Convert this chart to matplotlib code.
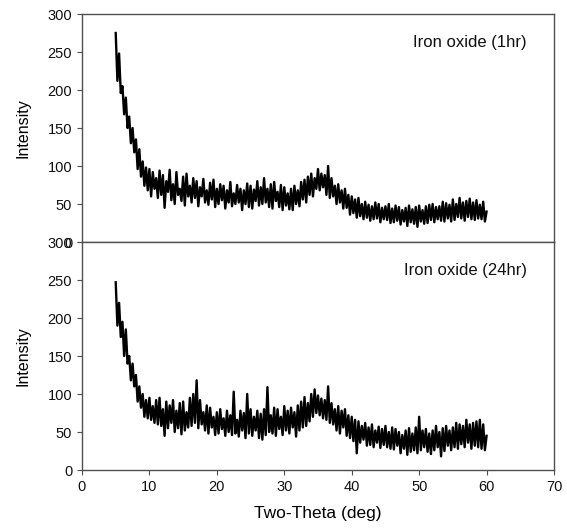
import matplotlib

matplotlib.use("Agg")
import matplotlib.pyplot as plt
import numpy as np

# two-theta sampling grid, 0.25 deg steps from 5 to 60
two_theta = np.arange(5.0, 60.001, 0.25)

# intensities (noisy XRD traces, zigzag high/low)
intensity_1hr = [
    275, 212, 248, 196, 205, 168, 190, 150, 165, 130, 150, 118,
    135, 96, 122, 86, 106, 74, 98, 68, 96, 60, 92, 70,
    84, 58, 94, 62, 88, 45, 80, 66, 95, 55, 76, 50,
    92, 62, 70, 54, 86, 48, 90, 60, 74, 52, 84, 58,
    80, 47, 72, 60, 83, 52, 68, 49, 78, 56, 82, 46,
    70, 50, 76, 55, 74, 44, 68, 52, 79, 47, 64, 50,
    75, 52, 70, 42, 68, 50, 77, 46, 74, 44, 69, 54,
    80, 48, 72, 50, 84, 52, 70, 46, 76, 44, 79, 54,
    66, 46, 75, 42, 72, 48, 64, 43, 70, 42, 74, 50,
    68, 47, 79, 56, 82, 52, 86, 62, 90, 60, 84, 70,
    96, 68, 90, 72, 88, 62, 100, 58, 84, 60, 74, 50,
    76, 52, 68, 44, 70, 45, 62, 36, 60, 38, 56, 32,
    58, 34, 50, 30, 53, 32, 49, 28, 47, 30, 52, 31,
    50, 26, 45, 30, 47, 29, 50, 25, 44, 26, 48, 28,
    46, 23, 42, 27, 45, 21, 48, 26, 43, 24, 46, 20,
    48, 27, 42, 24, 47, 25, 49, 29, 50, 26, 46, 30,
    47, 28, 53, 27, 51, 31, 49, 27, 56, 29, 50, 33,
    58, 31, 52, 28, 54, 33, 57, 30, 52, 29, 55, 31,
    49, 30, 53, 27, 40,
]

intensity_24hr = [
    247, 190, 220, 175, 195, 150, 185, 140, 150, 118, 140, 110,
    125, 90, 110, 82, 100, 70, 92, 68, 95, 66, 84, 62,
    92, 60, 95, 58, 80, 45, 90, 55, 85, 62, 92, 50,
    78, 55, 88, 47, 90, 52, 76, 56, 95, 58, 100, 62,
    118, 55, 92, 60, 76, 52, 85, 48, 82, 56, 70, 46,
    76, 48, 80, 54, 68, 45, 78, 50, 72, 46, 103, 48,
    66, 44, 78, 52, 75, 42, 100, 48, 80, 45, 70, 52,
    78, 42, 74, 40, 80, 46, 109, 50, 72, 48, 82, 45,
    80, 54, 70, 46, 84, 52, 78, 48, 82, 56, 76, 44,
    85, 52, 90, 56, 96, 58, 88, 64, 100, 70, 106, 75,
    98, 72, 94, 68, 92, 66, 110, 62, 88, 60, 80, 52,
    84, 48, 78, 56, 80, 45, 72, 42, 70, 38, 66, 22,
    64, 36, 58, 40, 62, 32, 56, 33, 60, 30, 52, 36,
    57, 29, 54, 33, 58, 30, 50, 28, 56, 27, 54, 32,
    50, 22, 46, 28, 52, 20, 55, 24, 48, 26, 56, 22,
    70, 26, 52, 30, 54, 24, 48, 21, 52, 26, 58, 30,
    50, 18, 55, 25, 58, 32, 52, 26, 56, 30, 62, 28,
    60, 34, 58, 30, 66, 36, 60, 28, 62, 32, 64, 30,
    66, 28, 60, 26, 45,
]

panel_labels = ["Iron oxide (1hr)", "Iron oxide (24hr)"]
y_ticks = [0, 50, 100, 150, 200, 250, 300]
x_ticks = [0, 10, 20, 30, 40, 50, 60, 70]

plt.rcParams.update(
    {
        "font.family": ["Liberation Sans", "DejaVu Sans"],
        "font.size": 10.5,
        "axes.linewidth": 1.0,
        "axes.edgecolor": "#505050",
        "xtick.color": "#505050",
        "ytick.color": "#505050",
        "xtick.labelcolor": "#111111",
        "ytick.labelcolor": "#111111",
        "xtick.direction": "out",
        "ytick.direction": "out",
        "xtick.major.size": 3.6,
        "ytick.major.size": 3.6,
    }
)

fig = plt.figure(figsize=(5.67, 5.30), dpi=100)
left, width = 82 / 567, 472 / 567
ax_top = fig.add_axes([left, 1 - 242 / 530, width, 228 / 530])
ax_bot = fig.add_axes([left, 1 - 470 / 530, width, 228 / 530])

for ax, series, label in zip((ax_top, ax_bot), (intensity_1hr, intensity_24hr), panel_labels):
    ax.plot(two_theta, series, color="black", linewidth=1.7)
    ax.set_xlim(0, 70)
    ax.set_ylim(0, 300)
    ax.set_yticks(y_ticks)
    ax.set_ylabel("Intensity", fontsize=11.5, labelpad=12)
    ax.text(0.942, 0.877, label, transform=ax.transAxes, ha="right", va="center", fontsize=12, color="#111111")

ax_top.set_xticks([])
ax_bot.set_xticks(x_ticks)
ax_bot.set_xlabel("Two-Theta (deg)", fontsize=12.5, labelpad=9)

fig.savefig("out.png", dpi=100)
